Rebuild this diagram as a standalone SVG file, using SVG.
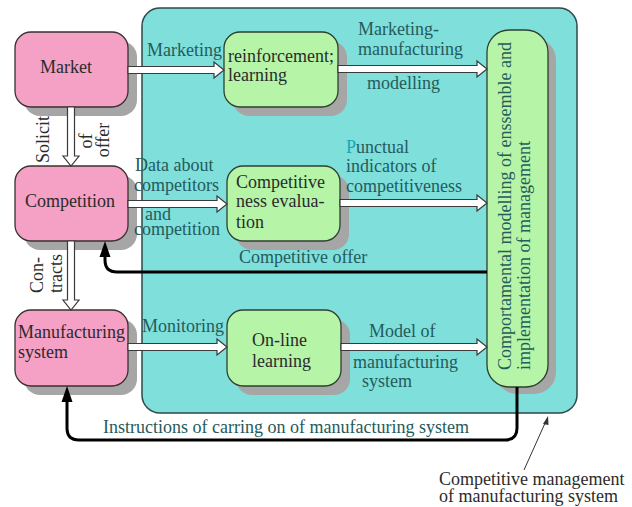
<svg xmlns="http://www.w3.org/2000/svg" width="632" height="507" viewBox="0 0 632 507">
<style>
text{font-family:"Liberation Serif","DejaVu Serif",serif;font-size:18px;fill:#2b2b2b}
.lbl{fill:#245b5b}
.shadow{fill:#a6a6a6}
.pink{fill:#f5a0c5;stroke:#3a3030;stroke-width:1.3}
.green{fill:#b6f5a8;stroke:#2f3f2f;stroke-width:1.3}
.hollow{fill:#ffffff;stroke:#3a3a3a;stroke-width:1.2;stroke-linejoin:miter}
.conn{fill:none;stroke:#000;stroke-width:3}
.head{fill:#000}
</style>
<rect width="632" height="507" fill="#ffffff"/>
<g id="frame">
<rect x="142" y="8" width="435" height="405" rx="18" fill="#7fdfdb" stroke="#2d4a4a" stroke-width="1.5"/>
</g>
<g id="market">
<rect class="shadow" x="24" y="41" width="113" height="75" rx="16"/>
<rect class="pink" x="15" y="32" width="113" height="75" rx="16"/>
<text x="40" y="73">Market</text>
</g>
<g id="competition">
<rect class="shadow" x="24" y="175" width="113" height="75" rx="16"/>
<rect class="pink" x="15" y="166" width="113" height="75" rx="16"/>
<text x="25" y="207">Competition</text>
</g>
<g id="manufacturing">
<rect class="shadow" x="24" y="319" width="113" height="76" rx="16"/>
<rect class="pink" x="15" y="310" width="113" height="76" rx="16"/>
<text x="18" y="338">Manufacturing</text>
<text x="18" y="358">system</text>
</g>
<g id="reinforcement">
<rect class="shadow" x="233" y="41" width="114" height="75" rx="16"/>
<rect class="green" x="224" y="32" width="114" height="75" rx="16"/>
<text x="228" y="62">reinforcement;</text>
<text x="228" y="81">learning</text>
</g>
<g id="competitiveness">
<rect class="shadow" x="236" y="175" width="113" height="75" rx="16"/>
<rect class="green" x="227" y="166" width="113" height="75" rx="16"/>
<text x="236" y="188">Competitive</text>
<text x="236" y="207">ness evalua-</text>
<text x="236" y="228">tion</text>
</g>
<g id="online">
<rect class="shadow" x="236" y="319" width="114" height="76" rx="16"/>
<rect class="green" x="227" y="310" width="114" height="76" rx="16"/>
<text x="252" y="346">On-line</text>
<text x="252" y="367">learning</text>
</g>
<g id="modelling">
<rect class="shadow" x="495" y="38" width="61" height="356" rx="22"/>
<rect class="green" x="487" y="30" width="61" height="357" rx="22"/>
<text transform="translate(511 370) rotate(-90)" class="lbl">Comportamental modelling of enssemble and</text>
<text transform="translate(530 370) rotate(-90)" class="lbl">implementation of management</text>
</g>
<g id="connectors">
<path class="hollow" d="M128 66.5H214V62L224 70L214 78V73.5H128Z"/>
<path class="hollow" d="M338 65.5H477V61L487 69L477 77V72.5H338Z"/>
<path class="hollow" d="M128 200.5H217V196L227 204L217 212V207.5H128Z"/>
<path class="hollow" d="M340 199.5H477V195L487 203L477 211V206.5H340Z"/>
<path class="hollow" d="M128 343.5H217V339L227 347L217 355V350.5H128Z"/>
<path class="hollow" d="M341 343.5H477V339L487 347L477 355V350.5H341Z"/>
<path class="hollow" d="M67.5 107V156H63L71 166L79 156H74.5V107Z"/>
<path class="hollow" d="M67.5 241V300H63L71 310L79 300H74.5V241Z"/>
<path class="conn" d="M487 272H117Q105 272 105 260V254"/>
<path class="head" d="M105 241L99.5 257H110.5Z"/>
<path class="conn" d="M517 387V428Q517 440 505 440H79Q67 440 67 428V399"/>
<path class="head" d="M67 386L61.5 402H72.5Z"/>
<path d="M524 470L546 421" fill="none" stroke="#333" stroke-width="1"/>
<path d="M548 416L543 424L548.5 425Z" fill="#333"/>
</g>
<g id="labels">
<text class="lbl" x="147" y="56">Marketing</text>
<text class="lbl" x="358" y="35">Marketing-</text>
<text class="lbl" x="358" y="55">manufacturing</text>
<text class="lbl" x="367" y="89">modelling</text>
<text class="lbl" x="135" y="171">Data about</text>
<text class="lbl" x="134" y="191">competitors</text>
<text class="lbl" x="145" y="220">and</text>
<text class="lbl" x="134" y="235">competition</text>
<text class="lbl" x="346" y="153"><tspan fill="#16a7b5">P</tspan>unctual</text>
<text class="lbl" x="346" y="172">indicators of</text>
<text class="lbl" x="346" y="192">competitiveness</text>
<text class="lbl" x="239" y="263">Competitive offer</text>
<text class="lbl" x="142" y="332">Monitoring</text>
<text class="lbl" x="369" y="337">Model of</text>
<text class="lbl" x="353" y="368">manufacturing</text>
<text class="lbl" x="362" y="387">system</text>
<text class="lbl" x="103" y="433">Instructions of carring on of manufacturing system</text>
<text transform="translate(49 163) rotate(-90)">Solicit</text>
<text transform="translate(92 141) rotate(-90)" text-anchor="middle">of</text>
<text transform="translate(109 140) rotate(-90)" text-anchor="middle">offer</text>
<text transform="translate(43 293) rotate(-90)">Con-</text>
<text transform="translate(62 293) rotate(-90)">tracts</text>
<text x="439" y="485">Competitive management</text>
<text x="439" y="502">of manufacturing system</text>
</g>
</svg>
